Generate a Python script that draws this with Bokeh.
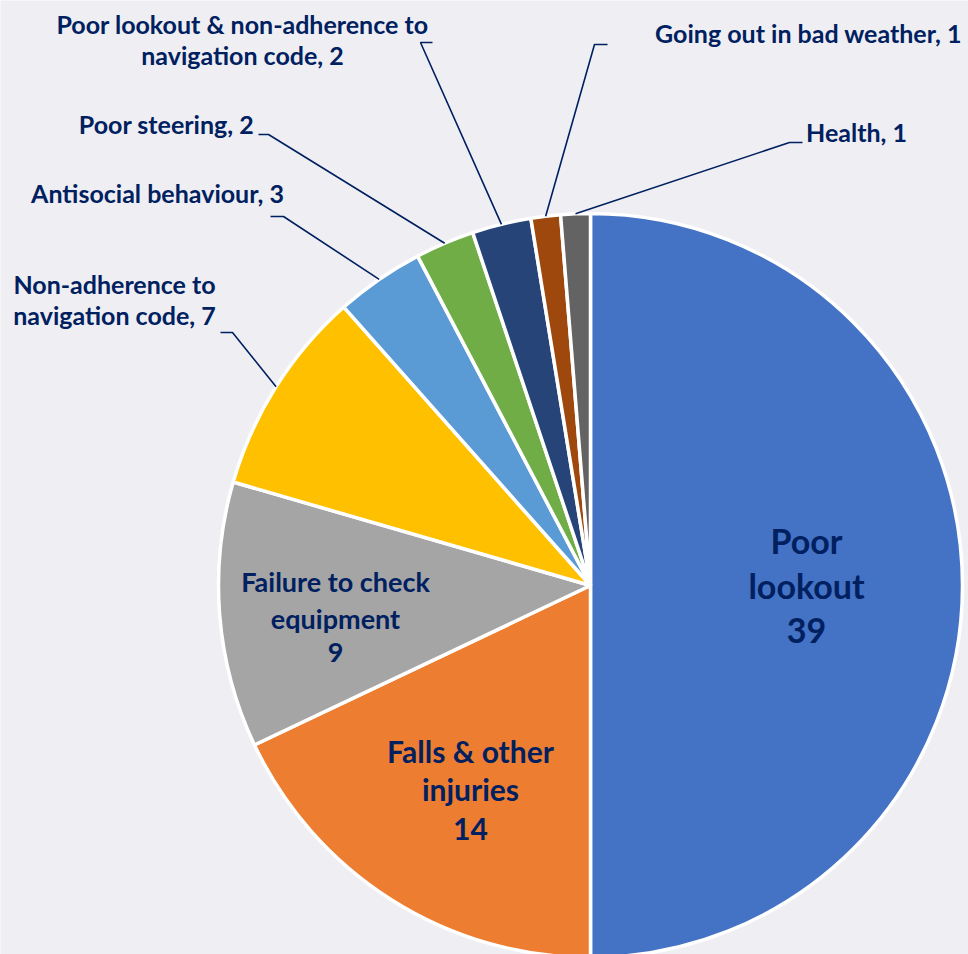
import math
from bokeh.plotting import figure
from bokeh.models import Range1d, ColumnDataSource
from bokeh.embed import file_html
from bokeh.resources import INLINE
from bokeh.core.properties import value

# ---------------- data ----------------
categories = ["Poor lookout", "Falls & other injuries", "Failure to check equipment",
              "Non-adherence to navigation code", "Antisocial behaviour", "Poor steering",
              "Poor lookout & non-adherence to navigation code", "Going out in bad weather",
              "Health"]
counts = [39, 14, 9, 7, 3, 2, 2, 1, 1]
colors = ["#4472C4", "#ED7D31", "#A5A5A5", "#FFC000", "#5B9BD5", "#70AD47",
          "#264478", "#9E480E", "#636363"]

inner_lines = {
    0: ["Poor", "lookout", str(counts[0])],
    1: ["Falls & other", "injuries", str(counts[1])],
    2: ["Failure to check", "equipment", str(counts[2])],
}
outer_lines = {
    3: ["Non-adherence to", "navigation code, %d" % counts[3]],
    4: ["Antisocial behaviour, %d" % counts[4]],
    5: ["Poor steering, %d" % counts[5]],
    6: ["Poor lookout & non-adherence to", "navigation code, %d" % counts[6]],
    7: ["Going out in bad weather, %d" % counts[7]],
    8: ["Health, %d" % counts[8]],
}

# ---------------- layout ----------------
W, H = 968, 954
BG = "#EEEEF3"
TXT = "#002060"
FONT = "Lato"


def Y(iy):  # image y (down) -> data y (up)
    return H - iy


CX, CY, R = 590, Y(585), 372

total = float(sum(counts))
starts, ends, mids = [], [], []
cum = 0.0
for c in counts:
    a0 = math.pi / 2 - 2 * math.pi * cum / total
    a1 = math.pi / 2 - 2 * math.pi * (cum + c) / total
    starts.append(a0)
    ends.append(a1)
    mids.append((a0 + a1) / 2)
    cum += c

p = figure(width=W, height=H, output_backend="svg", toolbar_location=None,
           x_range=Range1d(0, W), y_range=Range1d(0, H), min_border=0)
p.axis.visible = False
p.grid.visible = False
p.outline_line_color = None
p.background_fill_color = BG
p.border_fill_color = BG

src = ColumnDataSource(dict(start=starts, end=ends, color=colors, cat=categories))
p.wedge(x=CX, y=CY, radius=R, start_angle="start", end_angle="end", direction="clock",
        fill_color="color", line_color="white", line_width=3.5, source=src)


def shift(fs):
    return 0.38 * fs


# inner labels: (center x, baselines in image coords, font size px)
inner_pos = {
    0: (806, [553, 598, 643], 34),
    1: (470, [762, 800, 840], 30),
    2: (335, [591, 628, 662], 27),
}
for i, (x, ys, fs) in inner_pos.items():
    p.text(x=[x] * len(ys), y=[Y(v - shift(fs)) for v in ys], text=inner_lines[i],
           text_font=value(FONT), text_font_style="bold", text_font_size=value("%dpx" % fs),
           text_color=TXT, text_align="center", text_baseline="alphabetic")

# outer labels: center x, baselines, leader elbow (outer end, inner end)
outer_pos = {
    3: (114, [293, 324], (220, 332), (232, 332)),
    4: (157, [202], (270, 216), (283, 216)),
    5: (166, [133], (258, 134), (268, 134)),
    6: (242, [33, 64], (432, 42), (420, 42)),
    7: (808, [42], (607, 44), (594, 44)),
    8: (856, [141], (802, 142), (789, 142)),
}
OFS = 25
for i, (x, ys, e0, e1) in outer_pos.items():
    p.text(x=[x] * len(ys), y=[Y(v - shift(OFS)) for v in ys], text=outer_lines[i],
           text_font=value(FONT), text_font_style="bold", text_font_size=value("%dpx" % OFS),
           text_color=TXT, text_align="center", text_baseline="alphabetic")
    ex = CX + R * math.cos(mids[i])
    ey = CY + R * math.sin(mids[i])
    p.line(x=[e0[0], e1[0], ex], y=[Y(e0[1]), Y(e1[1]), ey], line_color=TXT, line_width=1.6)

open("out.html", "w").write(file_html(p, INLINE))
